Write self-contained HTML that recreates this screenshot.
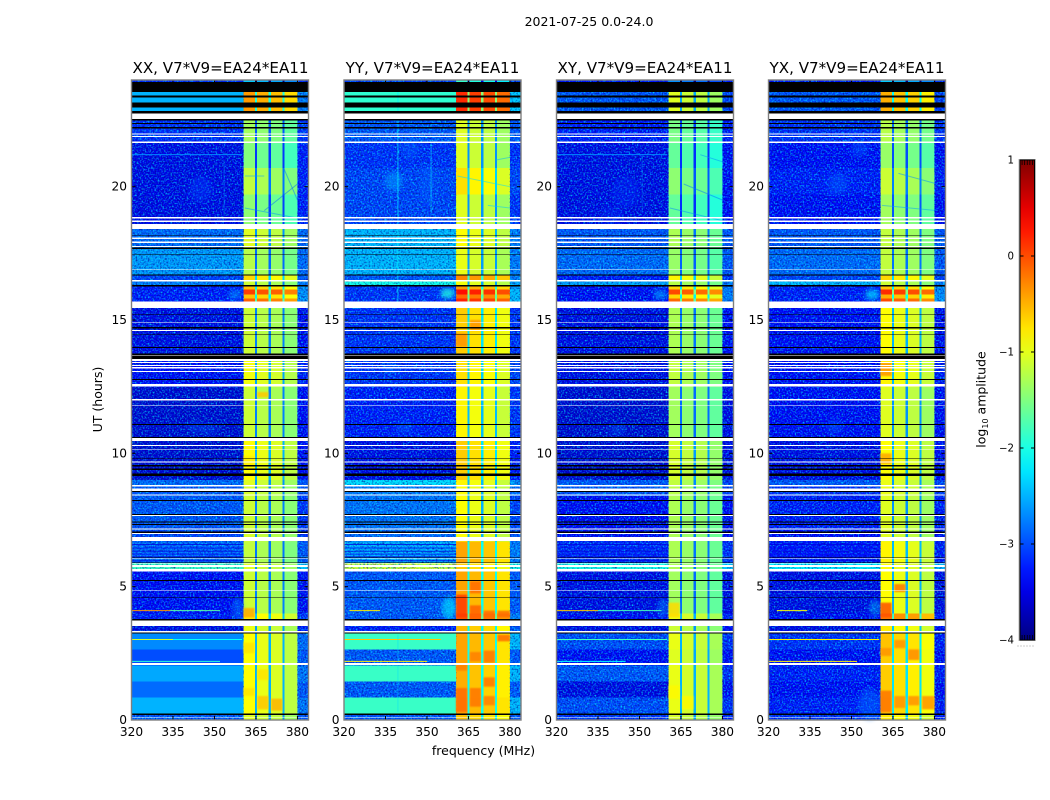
<!DOCTYPE html>
<html lang="en">
<head>
<meta charset="utf-8">
<title>2021-07-25 0.0-24.0</title>
<style>
html,body{margin:0;padding:0;background:#fff;}
svg{display:block;font-family:"DejaVu Sans","Liberation Sans",sans-serif;}
</style>
</head>
<body>
<svg id="figure" xmlns="http://www.w3.org/2000/svg" width="1050" height="800" viewBox="0 0 1050 800">
  <defs>
    <filter id="speckle-light" filterUnits="objectBoundingBox" x="0" y="0" width="1" height="1" color-interpolation-filters="sRGB">
      <feTurbulence type="fractalNoise" baseFrequency="0.62" numOctaves="1" seed="7"/>
      <feColorMatrix type="matrix" values="0 0 0 0 0  0 0 0 0 1  0 0 0 0 1  2.2 0 0 0 -1.02"/>
    </filter>
    <filter id="speckle-dark" filterUnits="objectBoundingBox" x="0" y="0" width="1" height="1" color-interpolation-filters="sRGB">
      <feTurbulence type="fractalNoise" baseFrequency="0.58" numOctaves="1" seed="23"/>
      <feColorMatrix type="matrix" values="0 0 0 0 0  0 0 0 0 0  0 0 0 0 0.55  0 2 0 0 -0.95"/>
    </filter>
    <filter id="soft" x="-60%" y="-60%" width="220%" height="220%"><feGaussianBlur stdDeviation="2.2"/></filter>
    <filter id="soft-patch" x="-30%" y="-60%" width="160%" height="220%"><feGaussianBlur stdDeviation="0.9"/></filter>
    <linearGradient id="jet-gradient" x1="0" y1="1" x2="0" y2="0"></linearGradient>
  </defs>
  <rect x="0" y="0" width="1050" height="800" fill="#fff"/>
  <text x="589" y="26" font-size="12.5" text-anchor="middle" fill="#000">2021-07-25 0.0-24.0</text>
  <text x="220.5" y="73" font-size="15.1" text-anchor="middle" fill="#000">XX, V7*V9=EA24*EA11</text>
  <text x="432.5" y="73" font-size="15.1" text-anchor="middle" fill="#000">YY, V7*V9=EA24*EA11</text>
  <text x="645" y="73" font-size="15.1" text-anchor="middle" fill="#000">XY, V7*V9=EA24*EA11</text>
  <text x="857" y="73" font-size="15.1" text-anchor="middle" fill="#000">YX, V7*V9=EA24*EA11</text>
  <text x="0" y="0" font-size="12.5" text-anchor="middle" fill="#000" transform="translate(102 399.5) rotate(-90)">UT (hours)</text>
  <text x="483.5" y="755" font-size="12.5" text-anchor="middle" fill="#000">frequency (MHz)</text>
  <text x="0" y="0" font-size="12.5" text-anchor="middle" fill="#000" transform="translate(985.5 399.5) rotate(-90)">log<tspan font-size="8" dy="2.5">10</tspan><tspan dy="-2.5"> amplitude</tspan></text>
  <g id="panels"></g>
  <g id="colorbar"></g>
</svg>
<script>
// ---- Data (log10 amplitude, frequency in MHz, time in UT hours) ----
var panelNames = ['xx','yy','xy','yx'];
var xTicks = [320,335,350,365,380];
var yTicks = [0,5,10,15,20];
var colorbarTicks = [1,0,-1,-2,-3,-4];

// top edge of each time segment (hours); each segment runs to the next top, last to 0
var segmentTops = [24,23.93,22.75,21.64,20.7,19.7,18.41,17.66,16.66,16.44,16.25,16.15,15.95,15.8,15.45,13.5,12.5,10.5,9,8.8,8.4,7.1,6.7,5.9,5.56,4,3.53,3.25,2.65,2.05,1.45,0.85,0.25];

var lowXX = [-3.2,-2.5,-3.2,-3.5,-3.5,-3.5,-2.9,-2.65,-3.1,-2.8,-3.3,-3.3,-3.3,-3.3,-3.5,-3.4,-3.6,-3.6,-2.9,-3,-3,-3.1,-2.9,-1.8,-3.4,-3.3,-3.5,-2.7,-3,-2.55,-2.85,-2.5,-3];
var lowYY = [-3.1,-1.9,-3,-3.2,-3.1,-3.1,-2.5,-2.5,-3,-2,-3.2,-3.2,-3.2,-3.2,-3.2,-3.2,-3.3,-3.5,-2.3,-2.8,-2.85,-2.9,-2.55,-1.1,-3,-3,-3.3,-1.85,-3,-1.85,-3,-1.85,-3];
var lowXY = [-3.3,-3,-3.3,-3.5,-3.5,-3.5,-3,-2.9,-3.3,-2.6,-3.4,-3.4,-3.4,-3.4,-3.5,-3.5,-3.6,-3.6,-3,-3,-3.4,-3.4,-3.2,-2,-3.5,-3.4,-3.5,-3.05,-3.4,-3,-3.5,-3.05,-3.2];
var lowYX = [-3.3,-3,-3.2,-3.4,-3.3,-3.4,-3,-2.9,-3.1,-2.5,-3.3,-3.3,-3.3,-3.3,-3.4,-3.4,-3.4,-3.5,-3,-3.2,-3.3,-3.4,-3.3,-2.2,-3.5,-3.4,-3.5,-3.2,-3.4,-3.3,-3.4,-3.3,-3.2];

var highXX = [-2.5,-0.5,-1.45,-1.6,-1.3,-1.55,-1.15,-1.35,-0.8,-1.25,-0.7,-0.05,-0.7,-0.2,-1.25,-1.05,-1.25,-1,-1.15,-1.2,-1.25,-1.2,-1.3,-1.15,-1.25,-0.9,-1.1,-1,-1,-1,-1,-1,-1.15];
var highYY = [-2,0.05,-1.15,-1.15,-0.85,-1.15,-1,-1.1,-0.4,-1.05,-0.5,0.2,-0.25,0.1,-0.75,-0.85,-0.95,-0.75,-0.95,-1,-1,-1,-0.55,-0.75,-0.55,-0.15,-0.65,-0.55,-0.55,-0.6,-0.6,-0.55,-0.7];
var highXY = [-2.8,-1.15,-1.65,-1.75,-1.55,-1.75,-1.4,-1.5,-0.95,-1.35,-0.8,-0.1,-0.8,-0.25,-1.4,-1.3,-1.45,-1.2,-1.3,-1.35,-1.4,-1.4,-1.4,-1.4,-1.45,-1.1,-1.25,-1.1,-1.15,-1.1,-1.1,-1.1,-1.2];
var highYX = [-2.5,-0.6,-1.35,-1.5,-1.25,-1.45,-1.3,-1.3,-0.8,-1.25,-0.7,0.05,-0.6,-0.1,-1,-0.95,-1.15,-1,-1.1,-1.1,-1.15,-1.15,-0.95,-1,-1,-0.35,-0.9,-0.7,-0.75,-0.75,-0.75,-0.7,-0.9];

var edgeXX = [-3.2,-2.8,-3.2,-3.3,-3.3,-3.3,-2.9,-2.9,-3,-2.8,-2.7,-2.7,-2.7,-2.7,-3.4,-3.3,-3.4,-3.4,-3,-3,-3.2,-3.2,-3,-2.4,-3.4,-3.2,-3.3,-2.9,-3,-2.85,-3,-2.85,-3];
var edgeYY = [-3.1,-2.4,-3,-3.2,-3.1,-3.2,-2.8,-2.8,-2.8,-2.6,-2.6,-2.5,-2.5,-2.5,-3.2,-3.1,-3.2,-3.3,-2.7,-2.9,-3.1,-3,-2.8,-2,-3,-2.8,-3,-2.5,-3,-2.5,-3,-2.5,-3];
var edgeXY = [-3.3,-3.1,-3.3,-3.4,-3.4,-3.4,-3,-3,-3.2,-2.8,-2.9,-2.8,-2.8,-2.8,-3.4,-3.4,-3.5,-3.5,-3.1,-3.1,-3.4,-3.4,-3.2,-2.4,-3.5,-3.3,-3.4,-3.2,-3.4,-3.2,-3.4,-3.2,-3.3];
var edgeYX = [-3.3,-3.1,-3.2,-3.4,-3.3,-3.4,-3,-3,-3.1,-2.8,-2.8,-2.7,-2.7,-2.7,-3.4,-3.3,-3.4,-3.4,-3.1,-3.2,-3.3,-3.4,-3.3,-2.5,-3.5,-3.3,-3.4,-3.3,-3.4,-3.3,-3.4,-3.3,-3.3];

var lowLevels = [lowXX, lowYY, lowXY, lowYX];
var highLevels = [highXX, highYY, highXY, highYX];
var edgeLevels = [edgeXX, edgeYY, edgeXY, edgeYX];

// spectral windows: [start MHz, end MHz, offset from band level]
var windows = [[360.5,364.6,0.12],[365.4,369.6,0.02],[370.4,374.6,-0.05],[375.4,380,-0.2]];
// notches between windows: [start MHz, end MHz], depth per panel
var notches = [[364.6,365.4],[369.6,370.4],[374.6,375.4]];
var notchDrop = [-1.5,-1.5,-1.4,-1.5];
// band edges
var lowBand = [320,360.5];
var edgeBand = [380,384];
// segments whose low band is smooth, per panel
var smoothSegments = [[1,27,28,29,30,31],[1,27,29,31],[],[]];

// diffuse emission blobs: [panel, MHz, UT, half-width MHz, half-height h, level, opacity]
var blobs = [
  [0,345,19.9,4,0.5,-3.05,0.4],[0,357.5,15.95,2.4,0.18,-2.6,0.55],[0,343,11,3,0.25,-2.9,0.3],[0,348,10.9,3,0.25,-2.9,0.25],[0,358.5,4.2,2,0.4,-2.6,0.4],
  [1,338,20.2,3.2,0.35,-2.6,0.55],[1,350,20.1,3,0.7,-2.9,0.35],[1,344,21.4,3,0.4,-2.9,0.35],[1,357.5,16,2.6,0.2,-2,0.75],[1,358,4.2,2.6,0.4,-2.2,0.6],[1,342,11,3,0.25,-2.8,0.35],[1,337,13.2,3,0.2,-2.7,0.35],
  [2,345,19.8,5,0.6,-3.1,0.35],[2,340,18.9,4,0.4,-3.1,0.3],[2,357.5,15.95,2.4,0.18,-2.5,0.6],[2,358.5,4.2,2,0.35,-2.7,0.45],[2,342,10.9,3,0.25,-2.9,0.3],
  [3,345,20.1,3.6,0.4,-2.9,0.45],[3,353,21.4,3,0.3,-2.9,0.4],[3,357.5,15.95,2.6,0.2,-2.3,0.7],[3,358.5,4.2,2.2,0.3,-2.5,0.45],[3,356.5,0.6,4,0.6,-2.8,0.45],[3,344,11,3,0.25,-2.8,0.35]
];
// hot patches inside the high band: [panel, start MHz, end MHz, UT top, UT bottom, level]
var patches = [
  [0,360.5,364.5,4.2,3.85,-0.45],[0,365.5,369.5,0.9,0.4,-0.6],[0,370.5,374.5,0.8,0.35,-0.5],[0,360.5,364.5,2.9,2.5,-0.75],[0,365.5,369.5,1.9,1.5,-0.75],[0,360.5,364.5,1.2,0.9,-0.75],[0,365.5,369.5,12.3,12.1,-0.6],[0,360.5,364.5,9.9,9.5,-0.8],
  [1,360.5,364.5,4.7,3.85,0.1],[1,365.5,369.5,4.3,3.85,-0.1],[1,370.5,374.5,4.1,3.85,-0.15],[1,375.5,380,4.1,3.85,-0.15],[1,365.5,369.5,5.2,4.75,-0.15],[1,370.5,374.5,2.6,2.15,-0.2],[1,365.5,369.5,2.55,2.2,-0.25],[1,360.5,364.5,1.2,0.3,-0.15],[1,365.5,369.5,1.2,0.5,-0.2],[1,370.5,374.5,1.6,1.25,-0.2],[1,370.5,374.5,0.9,0.55,-0.25],[1,375.5,380,3.2,2.95,-0.15],[1,360.5,364.5,2.1,1.85,-0.25],[1,360.5,364.5,14.5,14,-0.35],[1,365.5,369.5,15,14.6,-0.35],
  [2,360.5,364.5,4.4,3.85,-0.7],[2,360.5,364.5,1.3,0.8,-0.85],[2,365.5,369.5,0.9,0.4,-0.85],
  [3,360.5,364.5,4.4,3.85,-0.02],[3,365.5,369.5,5.1,4.8,-0.2],[3,360.5,364.5,1.1,0.3,-0.2],[3,365.5,369.5,0.9,0.45,-0.35],[3,370.5,374.5,2.65,2.25,-0.3],[3,370.5,374.5,0.9,0.55,-0.35],[3,375.5,380,0.9,0.4,-0.35],[3,360.5,364.5,2.7,2.4,-0.35],[3,365.5,369.5,3,2.7,-0.35],[3,360.5,364.5,13.4,12.9,-0.35],[3,360.5,364.5,10.0,9.6,-0.45]
];
// narrow RFI channels across time: [panel, UT, start MHz, end MHz, level]
var rfiRows = [
  [0,4.1,320,334,-0.35],[0,4.1,334,352,-1.7],[0,3.02,320,335,-1.1],[0,3.02,335,360,-2.1],[0,2.2,320,352,-1.9],[0,21.2,320,360,-2.7],
  [1,4.1,322,333,-0.8],[1,3.02,320,355,-0.6],[1,2.2,320,350,-0.8],
  [2,4.1,320,335,-0.6],[2,4.1,335,358,-1.8],[2,3.02,320,360,-1.8],[2,2.2,320,345,-2.1],[2,21.2,320,360,-2.7],
  [3,4.1,323,334,-0.9],[3,3.02,320,360,-0.8],[3,2.2,320,352,-0.8]
];
// alternating darker stripes in the 5.9-6.7 h block
var stripeTimes = [6.58,6.45,6.33,6.22,6.12,5.97];
var stripeLevels = [-3.5,-3.4,-3.5,-3.4,-3.5,-3.5];
// persistent channels: [panel, MHz, UT top, UT bottom, level, opacity]
var rfiColumns = [[1,339.5,23.9,15.6,-2.2,0.7],[1,339.5,3.2,0.3,-2.3,0.4],[0,353.5,21,18.9,-2.6,0.4],[1,351.5,21.6,19,-2.2,0.5],[2,351,21.2,19,-2.7,0.4]];
// dark drifting traces in the high band: [panel, MHz start, UT start, MHz end, UT end, level]
var traces = [
  [0,361,19.2,381,18.8,-2.7],[0,368,19.1,380,20.1,-2.9],[0,375,20.7,380,19.5,-2.8],[0,361,20.4,368,20.4,-2.6],
  [1,361,20.4,380,20.0,-2.3],[1,372,19.3,380,19.2,-2.4],[1,375,21,380,21.1,-2.5],
  [2,361,19.2,381,18.7,-2.7],[2,366,20.1,380,19.5,-2.8],[2,372,21.2,381,20.9,-2.7],
  [3,361,19.3,381,19.1,-2.6],[3,367,20.5,381,20.1,-2.7]
];
// flagged (white) time ranges: top, bottom
var whiteTops = [22.75,22,21.9,21.69,18.87,18.73,18.6,18.1,17.94,17.78,16.9,16.5,15.69,14.9,14.63,13.69,13.53,13.43,13.31,13.23,13.09,12.6,12.51,12.03,11.81,10.58,10.31,10.16,9.69,8.81,8.69,8.46,7.69,7.19,7.02,6.87,6.08,5.89,5.81,5.67,4.88,3.74,3.34,2.13,0.12];
var whiteBottoms = [22.54,21.96,21.86,21.64,18.81,18.68,18.41,18.03,17.88,17.73,16.88,16.44,15.45,14.88,14.59,13.66,13.47,13.38,13.28,13.19,13.05,12.53,12.49,11.99,11.79,10.46,10.28,10.14,9.65,8.75,8.59,8.41,7.65,7.15,6.98,6.71,6.05,5.86,5.74,5.56,4.85,3.53,3.29,2.06,0.1];
// empty (black) time ranges: top, bottom
var blackTops = [23.93,23.41,23.15,22.83,22.54,22.39,22.24,18.19,17.72,17.48,16.71,16.31,15.23,14.73,14.46,13.98,13.75,13.66,12.78,11.1,10.62,9.81,9.56,9.44,9.25,8.59,8.25,7.73,7.44,7.35,7.06,6.1,5.91,5.25,4.6,3.78,3.29,0.25];
var blackBottoms = [23.55,23.34,22.96,22.75,22.48,22.35,22.18,18.16,17.66,17.45,16.66,16.25,15.2,14.69,14.44,13.95,13.69,13.53,12.75,11.06,10.58,9.78,9.5,9.38,9.15,8.55,8.21,7.69,7.4,7.31,7.02,6.08,5.89,5.22,4.58,3.74,3.25,0.19];

// ---- Layout and axis functions ----
var NS = 'http://www.w3.org/2000/svg';
var panelLefts = [131.5,344,556.5,768.5];
var panelWidth = 177;
var plotTop = 80;
var plotHeight = 640;
var xMin = 320, xMax = 384, yMax = 24;
function xScale(panel, f){ return panelLefts[panel] + (f - xMin) / (xMax - xMin) * panelWidth; }
function yScale(ut){ return plotTop + (yMax - ut) / yMax * plotHeight; }
var cbLeft = 1019.5, cbWidth = 15.5, cbTop = 160, cbHeight = 480, cbMin = -4, cbMax = 1;
function cbScale(v){ return cbTop + (cbMax - v) / (cbMax - cbMin) * cbHeight; }

function clip01(v){ return Math.max(0, Math.min(1, v)); }
function jet(level){
  var t = clip01((level - cbMin) / (cbMax - cbMin));
  var r = clip01(1.5 - Math.abs(4*t - 3));
  var g = clip01(1.5 - Math.abs(4*t - 2));
  var b = clip01(1.5 - Math.abs(4*t - 1));
  return 'rgb(' + Math.round(r*255) + ',' + Math.round(g*255) + ',' + Math.round(b*255) + ')';
}
function rect(parent, x, y, w, h, fill){
  var r = document.createElementNS(NS, 'rect');
  r.setAttribute('x', x);
  r.setAttribute('y', y);
  r.setAttribute('width', w);
  r.setAttribute('height', h);
  r.setAttribute('fill', fill);
  parent.appendChild(r);
  return r;
}
function line(parent, x1, y1, x2, y2, stroke, sw){
  var l = document.createElementNS(NS, 'line');
  l.setAttribute('x1', x1);
  l.setAttribute('y1', y1);
  l.setAttribute('x2', x2);
  l.setAttribute('y2', y2);
  l.setAttribute('stroke', stroke);
  l.setAttribute('stroke-width', sw);
  parent.appendChild(l);
  return l;
}
function label(parent, x, y, str, size, anchor){
  var t = document.createElementNS(NS, 'text');
  t.setAttribute('x', x);
  t.setAttribute('y', y);
  t.setAttribute('font-size', size);
  t.setAttribute('text-anchor', anchor);
  t.setAttribute('fill', '#000');
  t.textContent = str;
  parent.appendChild(t);
  return t;
}
function segBottom(i){ return i + 1 < segmentTops.length ? segmentTops[i + 1] : 0; }
function bandCell(g, p, f0, f1, i, level){
  var c = rect(g, xScale(p, f0), yScale(segmentTops[i]), xScale(p, f1) - xScale(p, f0), yScale(segBottom(i)) - yScale(segmentTops[i]), jet(level));
  
  
  return c;
}

var panelsRoot = document.getElementById('panels');
panelNames.forEach(function(name, p){
  var g = document.createElementNS(NS, 'g');
  
  
  panelsRoot.appendChild(g);

  var heat = document.createElementNS(NS, 'g');
  
  
  heat.setAttribute('shape-rendering', 'crispEdges');
  g.appendChild(heat);

  segmentTops.forEach(function(top, i){
    bandCell(heat, p, lowBand[0], lowBand[1], i, lowLevels[p][i]);
    bandCell(heat, p, edgeBand[0], edgeBand[1], i, edgeLevels[p][i]);
    windows.forEach(function(w){
      bandCell(heat, p, w[0], w[1], i, highLevels[p][i] + w[2]);
    });
    notches.forEach(function(n){
      bandCell(heat, p, n[0], n[1], i, highLevels[p][i] + notchDrop[p]);
    });
  });

  // speckle texture over low band and edge band
  var sp1 = rect(heat, xScale(p, lowBand[0]), plotTop, xScale(p, lowBand[1]) - xScale(p, lowBand[0]), plotHeight, '#000');
  sp1.setAttribute('filter', 'url(#speckle-light)');
  
  
  var sp1d = rect(heat, xScale(p, lowBand[0]), plotTop, xScale(p, lowBand[1]) - xScale(p, lowBand[0]), plotHeight, '#000');
  sp1d.setAttribute('filter', 'url(#speckle-dark)');
  
  
  var sp2 = rect(heat, xScale(p, edgeBand[0]), plotTop, xScale(p, edgeBand[1]) - xScale(p, edgeBand[0]), plotHeight, '#000');
  sp2.setAttribute('filter', 'url(#speckle-light)');
  
  
  var sp2d = rect(heat, xScale(p, edgeBand[0]), plotTop, xScale(p, edgeBand[1]) - xScale(p, edgeBand[0]), plotHeight, '#000');
  sp2d.setAttribute('filter', 'url(#speckle-dark)');
  
  

  smoothSegments[p].forEach(function(i){
    bandCell(heat, p, lowBand[0], lowBand[1], i, lowLevels[p][i]);
  });

  stripeTimes.forEach(function(ut, k){
    var st = line(g, xScale(p, lowBand[0]), yScale(ut), xScale(p, lowBand[1]), yScale(ut), jet(stripeLevels[k]), 1);
    st.setAttribute('opacity', '0.75');
    
    
  });

  blobs.filter(function(b){ return b[0] === p; }).forEach(function(b){
    var e = document.createElementNS(NS, 'ellipse');
    e.setAttribute('cx', xScale(p, b[1]));
    e.setAttribute('cy', yScale(b[2]));
    e.setAttribute('rx', xScale(p, b[1] + b[3]) - xScale(p, b[1]));
    e.setAttribute('ry', yScale(b[2] - b[4]) - yScale(b[2]));
    e.setAttribute('fill', jet(b[5]));
    e.setAttribute('opacity', b[6]);
    e.setAttribute('filter', 'url(#soft)');
    
    
    g.appendChild(e);
  });

  patches.filter(function(a){ return a[0] === p; }).forEach(function(a){
    var c = rect(g, xScale(p, a[1]), yScale(a[3]), xScale(p, a[2]) - xScale(p, a[1]), yScale(a[4]) - yScale(a[3]), jet(a[5]));
    c.setAttribute('opacity', '0.85');
    c.setAttribute('filter', 'url(#soft-patch)');
    
    
  });

  traces.filter(function(a){ return a[0] === p; }).forEach(function(a){
    var l = line(g, xScale(p, a[1]), yScale(a[2]), xScale(p, a[3]), yScale(a[4]), jet(a[5]), 1);
    l.setAttribute('opacity', '0.5');
    
    
  });

  rfiRows.filter(function(a){ return a[0] === p; }).forEach(function(a){
    var l = line(g, xScale(p, a[2]), yScale(a[1]), xScale(p, a[3]), yScale(a[1]), jet(a[4]), 1);
    
    
  });

  rfiColumns.filter(function(a){ return a[0] === p; }).forEach(function(a){
    var l = line(g, xScale(p, a[1]), yScale(a[2]), xScale(p, a[1]), yScale(a[3]), jet(a[4]), 1);
    l.setAttribute('opacity', a[5]);
    
    
  });

  var flags = document.createElementNS(NS, 'g');
  
  
  flags.setAttribute('shape-rendering', 'crispEdges');
  g.appendChild(flags);
  blackTops.forEach(function(top, k){
    var b = rect(flags, panelLefts[p], yScale(top), panelWidth, yScale(blackBottoms[k]) - yScale(top), '#000');
    
    
  });
  whiteTops.forEach(function(top, k){
    var w = rect(flags, panelLefts[p], yScale(top), panelWidth, yScale(whiteBottoms[k]) - yScale(top), '#fff');
    
    
  });

  // ticks and tick labels
  xTicks.forEach(function(v){
    var x = xScale(p, v);
    var t1 = line(g, x, plotTop + plotHeight, x, plotTop + plotHeight - 4, '#000', 1);
    
    
    var t2 = line(g, x, plotTop, x, plotTop + 4, '#000', 1);
    
    
    var lb = label(g, x, 736, String(v), 12.2, 'middle');
    
    
  });
  yTicks.forEach(function(v){
    var y = yScale(v);
    var t1 = line(g, panelLefts[p], y, panelLefts[p] + 4, y, '#000', 1);
    
    
    var t2 = line(g, panelLefts[p] + panelWidth, y, panelLefts[p] + panelWidth - 4, y, '#000', 1);
    
    
    var lb = label(g, panelLefts[p] - 4.5, y + 4, String(v), 12.2, 'end');
    
    
  });

  var frame = rect(g, panelLefts[p], plotTop, panelWidth, plotHeight, 'none');
  frame.setAttribute('stroke', '#7f7f7f');
  frame.setAttribute('stroke-width', '1.4');
  
  
});

// ---- Colorbar ----
var grad = document.getElementById('jet-gradient');
for (var s = 0; s <= 20; s++) {
  var stop = document.createElementNS(NS, 'stop');
  stop.setAttribute('offset', (s / 20 * 100) + '%');
  stop.setAttribute('stop-color', jet(cbMin + (cbMax - cbMin) * s / 20));
  grad.appendChild(stop);
}
var cb = document.getElementById('colorbar');
var body = rect(cb, cbLeft, cbTop, cbWidth, cbHeight, 'url(#jet-gradient)');


var outer = rect(cb, cbLeft - 0.5, cbTop - 0.5, cbWidth + 1, cbHeight + 1, 'none');
outer.setAttribute('stroke', '#b5b5b5');
outer.setAttribute('stroke-width', '1');


var inner = rect(cb, cbLeft + 0.5, cbTop, cbWidth - 1, cbHeight, 'none');
inner.setAttribute('stroke', '#000');
inner.setAttribute('stroke-width', '1');


colorbarTicks.forEach(function(v){
  var y = cbScale(v);
  var lb = label(cb, cbLeft - 5.5, y + 3.5, String(v).replace('-', '\u2212'), 10.2, 'end');
  
  
  if (v !== cbMax && v !== cbMin) {
    var t1 = line(cb, cbLeft, y, cbLeft + 4, y, '#000', 1);
    
    
    var t2 = line(cb, cbLeft + cbWidth, y, cbLeft + cbWidth - 4, y, '#000', 1);
    
    
  }
});
for (var m = 1; m <= 5; m++) {
  var mx = cbLeft + m * cbWidth / 6;
  var mt = line(cb, mx, cbTop, mx, cbTop + 5, '#000', 0.8);
  
  
  var mb = line(cb, mx, cbTop + cbHeight, mx, cbTop + cbHeight - 5, '#000', 0.8);
  
  
}
var dots = line(cb, 1017.5, 646, 1035, 646, '#999', 1);
dots.setAttribute('stroke-dasharray', '1 2');


</script>
</body>
</html>
